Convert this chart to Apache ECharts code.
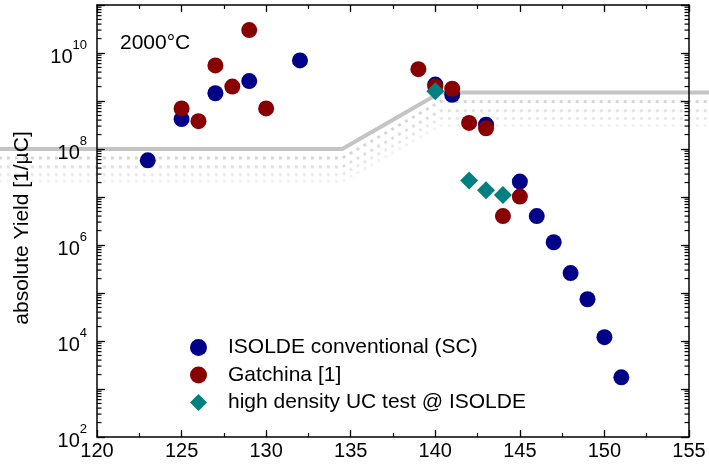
<!DOCTYPE html>
<html><head><meta charset="utf-8">
<script src="https://cdn.jsdelivr.net/npm/echarts@6/dist/echarts.min.js"></script>
<style>html,body{margin:0;padding:0;background:#fff}#c{width:709px;height:469px}</style>
</head><body><div id="c"></div>
<script>
// ---- data ----
const isoldeX = [123, 125, 127, 129, 132, 140, 141, 143, 145, 146, 147, 148, 149, 150, 151];
const isoldeY = [5.8e7, 4.2e8, 1.45e9, 2.6e9, 7e9, 2.2e9, 1.35e9, 3.2e8, 2.1e7, 4e6, 1.14e6, 2.6e5, 7.4e4, 1.2e4, 1.75e3];
const gatchinaX = [125, 126, 127, 128, 129, 130, 139, 140, 141, 142, 143, 144, 145];
const gatchinaY = [7e8, 3.8e8, 5.5e9, 2e9, 3e10, 7e8, 4.6e9, 2.0e9, 1.8e9, 3.5e8, 2.7e8, 4e6, 1.02e7];
const ucX = [140, 142, 143, 144];
const ucY = [1.6e9, 2.2e7, 1.38e7, 1.1e7];
// background band (grey guide line and its fading dotted rows)
const bandX = [114.2, 134.5, 140.3, 156.2];
const bandY = [1e8, 1e8, 1.5e9, 1.5e9];
const bandRow1 = [6.5e7, 6.5e7, 9.8e8, 9.8e8];
const bandRow2 = [4.2e7, 4.2e7, 6.3e8, 6.3e8];
const bandRow3 = [2.9e7, 2.9e7, 4.3e8, 4.3e8];
const bandRow4 = [2.1e7, 2.1e7, 3.1e8, 3.1e8];
const seriesNames = ['ISOLDE conventional (SC)', 'Gatchina [1]', 'high density UC test @ ISOLDE'];
const minorMult = [2, 3, 4, 5, 6, 7, 8, 9];

const zip = (xs, ys) => xs.map((x, i) => [x, ys[i]]);
const minorVals = [];
for (let e = 2; e < 11; e++) minorMult.forEach(m => minorVals.push(m * Math.pow(10, e)));

const FONT = '"Liberation Sans", Arial, sans-serif';
const chart = echarts.init(document.getElementById('c'));

function yLabel(v) {
  const e = Math.round(Math.log10(v));
  if (e % 2 !== 0) return '';
  return '{b|10}{e|' + e + '}';
}
const yRich = {
  b: {fontSize: 20, fontFamily: FONT, color: '#000', verticalAlign: 'bottom', lineHeight: 22},
  e: {fontSize: 13, fontFamily: FONT, color: '#000', verticalAlign: 'top', lineHeight: 28, padding: [0, 0, 11, 0]}
};

const bandLine = (data, color, width, dash, op) => ({
  type: 'line', data: data, xAxisIndex: 2, yAxisIndex: 2, symbol: 'none', silent: true,
  z: 0, animation: false,
  lineStyle: {color: color, width: width, type: dash, opacity: op}
});

const hiddenAxis = {show: false, axisLine: {show: false}, axisTick: {show: false}, axisLabel: {show: false}, splitLine: {show: false}};

const option = {
  animation: false,
  backgroundColor: '#fff',
  grid: [
    {left: 97, right: 20, top: 5, bottom: 32, containLabel: false},
    {left: 0, right: 0, top: 5, bottom: 32, containLabel: false, z: 0}
  ],
  xAxis: [
    {type: 'value', gridIndex: 0, z: 4, min: 120, max: 155, interval: 5, position: 'bottom',
     axisLine: {lineStyle: {color: '#000', width: 1.5}},
     axisTick: {inside: true, length: 7, lineStyle: {color: '#000', width: 1.3}},
     minorTick: {show: true, splitNumber: 2, length: 4, lineStyle: {color: '#000', width: 1.2}},
     splitLine: {show: false},
     axisLabel: {fontSize: 20, fontFamily: FONT, color: '#000', margin: 4}},
    {type: 'value', gridIndex: 0, z: 4, min: 120, max: 155, interval: 5, position: 'top',
     axisLine: {lineStyle: {color: '#000', width: 1.5}},
     axisTick: {inside: true, length: 7, lineStyle: {color: '#000', width: 1.3}},
     minorTick: {show: true, splitNumber: 2, length: 4, lineStyle: {color: '#000', width: 1.2}},
     splitLine: {show: false}, axisLabel: {show: false}},
    Object.assign({type: 'value', gridIndex: 1, min: 114.27, max: 156.18}, hiddenAxis)
  ],
  yAxis: [
    {type: 'log', gridIndex: 0, z: 4, logBase: 10, min: 1e2, max: 1e11, interval: 1, position: 'left',
     name: 'absolute Yield [1/\u00b5C]', nameLocation: 'middle', nameGap: 64,
     nameTextStyle: {fontSize: 21, fontFamily: FONT, color: '#000', padding: [0, 14, 0, 0]},
     axisLine: {show: true, lineStyle: {color: '#000', width: 1.5}},
     axisTick: {inside: true, length: 8, lineStyle: {color: '#000', width: 1.3}},
     splitLine: {show: false},
     axisLabel: {formatter: yLabel, rich: yRich, margin: 10}},
    {type: 'log', gridIndex: 0, z: 4, logBase: 10, min: 1e2, max: 1e11, interval: 1, position: 'right',
     axisLine: {show: true, lineStyle: {color: '#000', width: 1.5}},
     axisTick: {inside: true, length: 8, lineStyle: {color: '#000', width: 1.3}},
     splitLine: {show: false}, axisLabel: {show: false}},
    Object.assign({type: 'log', gridIndex: 1, logBase: 10, min: 1e2, max: 1e11}, hiddenAxis)
  ],
  legend: {
    data: seriesNames, orient: 'vertical', left: 185, top: 332, z: 6,
    itemWidth: 17, itemHeight: 17, itemGap: 6.5,
    textStyle: {fontSize: 21, fontFamily: FONT, color: '#000', padding: [0, 0, 0, 16]}
  },
  graphic: [
    {type: 'text', left: 120, top: 33, z: 6, style: {text: '2000\u00b0C', fontSize: 21, fontFamily: FONT, fill: '#000'}}
  ],
  series: [
    bandLine(zip(bandX, bandRow4), '#bbbbbb', 3, [3, 5], 0.18),
    bandLine(zip(bandX, bandRow3), '#bbbbbb', 3, [3, 5], 0.3),
    bandLine(zip(bandX, bandRow2), '#bbbbbb', 3, [3, 5], 0.45),
    bandLine(zip(bandX, bandRow1), '#bbbbbb', 3, [3, 5], 0.6),
    bandLine(zip(bandX, bandY), '#c4c4c4', 4, 'solid', 1),
    {type: 'custom', xAxisIndex: 0, yAxisIndex: 0, silent: true, z: 4, clip: false, data: minorVals.map(v => [v]),
     renderItem: function (params, api) {
       const v = api.value(0);
       const pl = api.coord([120, v]);
       const pr = api.coord([155, v]);
       return {type: 'group', children: [
         {type: 'line', shape: {x1: pl[0], y1: pl[1], x2: pl[0] + 4.5, y2: pl[1]}, style: {stroke: '#000', lineWidth: 1.2}},
         {type: 'line', shape: {x1: pr[0], y1: pr[1], x2: pr[0] - 4.5, y2: pr[1]}, style: {stroke: '#000', lineWidth: 1.2}}
       ]};
     }},
    {name: seriesNames[0], type: 'scatter', xAxisIndex: 0, yAxisIndex: 0, data: zip(isoldeX, isoldeY), symbol: 'circle', symbolSize: 16,
     itemStyle: {color: '#000088', opacity: 1}, z: 5},
    {name: seriesNames[1], type: 'scatter', xAxisIndex: 0, yAxisIndex: 0, data: zip(gatchinaX, gatchinaY), symbol: 'circle', symbolSize: 16,
     itemStyle: {color: '#880000', opacity: 1}, z: 6},
    {name: seriesNames[2], type: 'scatter', xAxisIndex: 0, yAxisIndex: 0, data: zip(ucX, ucY), symbol: 'diamond', symbolSize: 18,
     itemStyle: {color: '#008080', opacity: 1}, z: 7}
  ]
};
chart.setOption(option);
</script></body></html>
